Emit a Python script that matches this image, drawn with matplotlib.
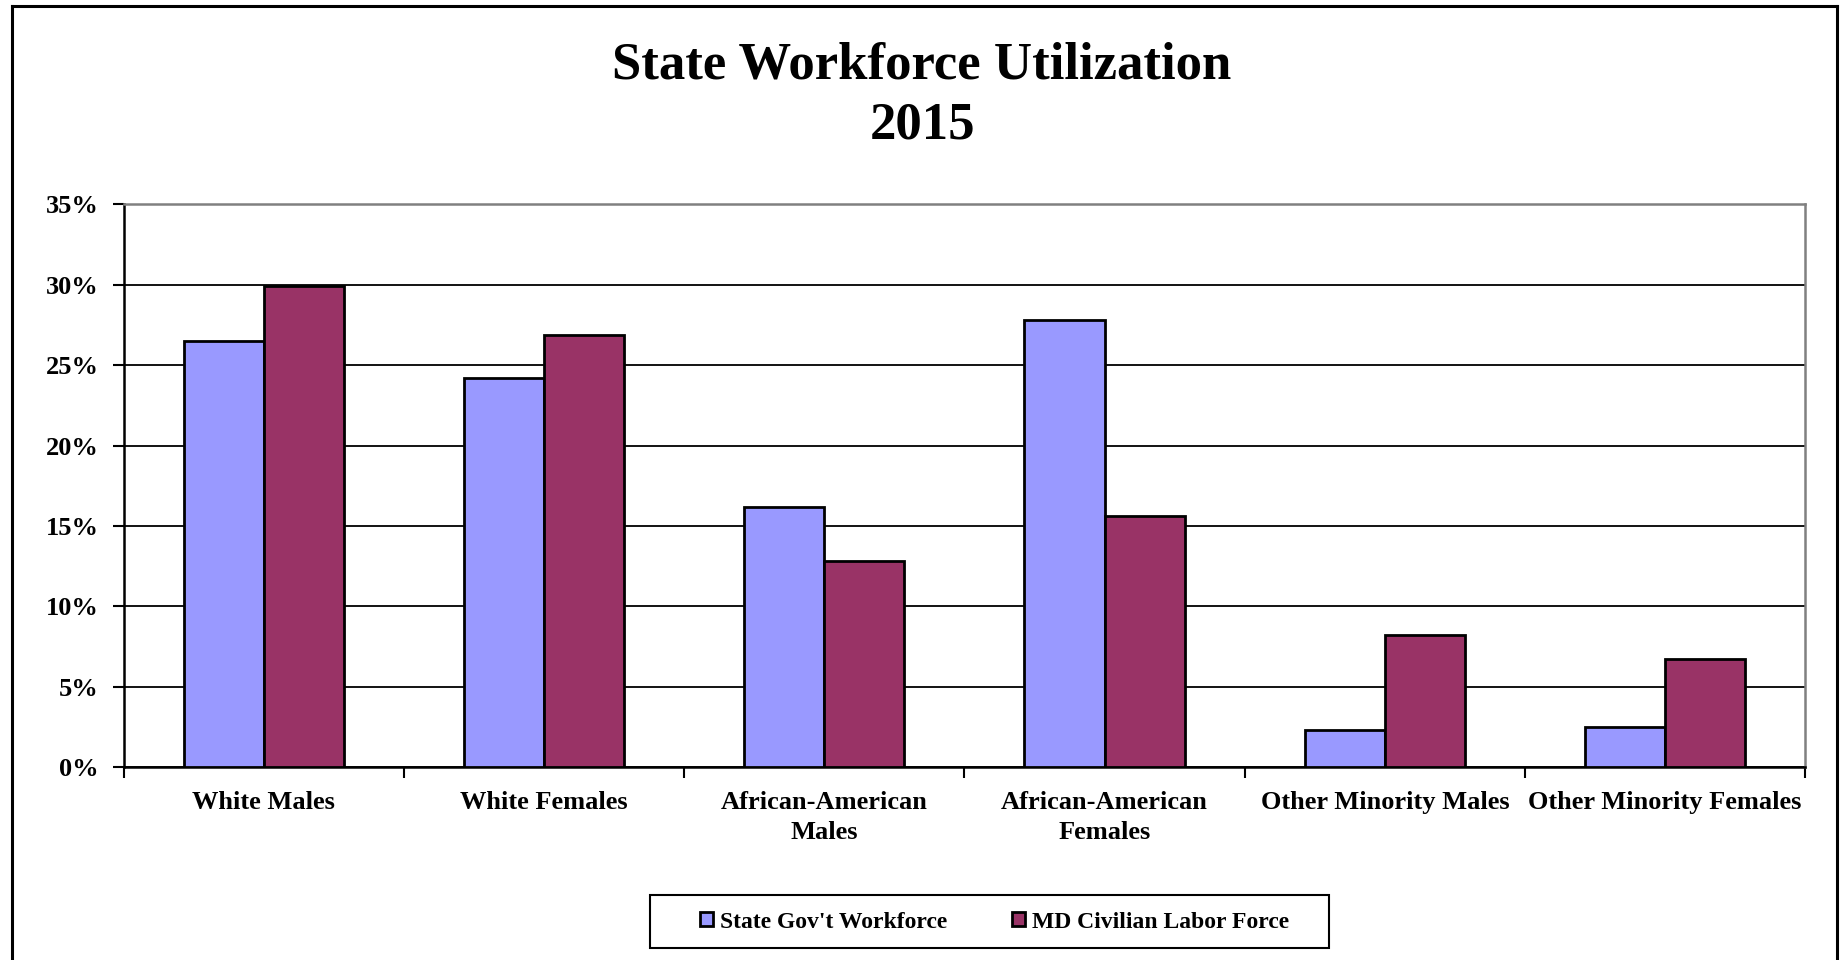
import matplotlib
matplotlib.use("Agg")
import matplotlib.pyplot as plt
import numpy as np
from matplotlib.patches import Rectangle
from matplotlib.lines import Line2D

categories = ["White Males", "White Females", "African-American\nMales",
              "African-American\nFemales", "Other Minority Males", "Other Minority Females"]
state_gov = [26.5, 24.2, 16.2, 27.8, 2.3, 2.5]
md_civilian = [29.9, 26.9, 12.8, 15.6, 8.2, 6.7]
series_names = ["State Gov't Workforce", "MD Civilian Labor Force"]
yticks = [0, 5, 10, 15, 20, 25, 30, 35]
ytick_labels = ["0%", "5%", "10%", "15%", "20%", "25%", "30%", "35%"]

plt.rcParams['font.family'] = ['Liberation Serif', 'DejaVu Serif']
plt.rcParams['font.weight'] = 'bold'

fig = plt.figure(figsize=(18.44, 9.6), dpi=100)
fig.patch.set_facecolor('white')

# outer frame (left, top, right)
fig.add_artist(Line2D([12/1844, 12/1844], [0, 1 - 6/960], color='black', lw=2.2, transform=fig.transFigure))
fig.add_artist(Line2D([12/1844, 1837/1844], [1 - 6/960, 1 - 6/960], color='black', lw=2.2, transform=fig.transFigure))
fig.add_artist(Line2D([1837/1844, 1837/1844], [0, 1 - 6/960], color='black', lw=2.2, transform=fig.transFigure))

ax = fig.add_axes([0.067, 0.201, 0.912, 0.586])

x = np.arange(len(categories))
w = 1 / 3.5
ax.bar(x - w/2, state_gov, width=w, color='#9999FF', edgecolor='black', linewidth=2, zorder=3,
       label=series_names[0])
ax.bar(x + w/2, md_civilian, width=w, color='#993366', edgecolor='black', linewidth=2, zorder=3,
       label=series_names[1])

ax.set_xlim(-0.5, len(categories) - 0.5)
ax.set_ylim(0, 35)
ax.set_yticks(yticks)
ax.set_yticklabels(ytick_labels, fontsize=19, fontweight='bold')
ax.yaxis.grid(True, color='black', linewidth=1.3, zorder=0)
ax.set_axisbelow(True)

# category labels at centers, ticks at boundaries
ax.set_xticks(np.arange(len(categories) + 1) - 0.5)
ax.set_xticklabels([])
ax.set_xticks(x, minor=True)
ax.set_xticklabels(categories, minor=True, fontsize=19, fontweight='bold', linespacing=1.4)
ax.tick_params(axis='x', which='minor', length=0, pad=17)
ax.tick_params(axis='x', which='major', length=8, width=1.5, direction='out', color='black')
ax.tick_params(axis='y', length=8, width=1.5, direction='out', pad=10, color='black')

for s in ['left', 'bottom']:
    ax.spines[s].set_color('black')
    ax.spines[s].set_linewidth(1.8)
for s in ['top', 'right']:
    ax.spines[s].set_color('#808080')
    ax.spines[s].set_linewidth(1.8)

fig.text(0.5, 0.932, "State Workforce Utilization", ha='center', va='center',
         fontsize=38, fontweight='bold')
fig.text(0.5, 0.869, "2015", ha='center', va='center', fontsize=38, fontweight='bold')

# legend frame drawn as a fixed box
fig.add_artist(Rectangle((650/1844, 1 - 948/960), (1329 - 650)/1844, (948 - 895)/960,
                         transform=fig.transFigure, facecolor='white', edgecolor='black',
                         linewidth=1.5, zorder=1))
leg = fig.legend(loc='center', bbox_to_anchor=(0.5395, 0.0395), ncol=2,
                 frameon=False,
                 handlelength=0.55, handleheight=0.55, handletextpad=0.3, columnspacing=2.75,
                 borderpad=0.3, prop={'weight': 'bold', 'size': 17})
leg.set_zorder(2)
for h in leg.legend_handles:
    h.set_linewidth(2)

fig.savefig("out.png", dpi=100, facecolor='white')
